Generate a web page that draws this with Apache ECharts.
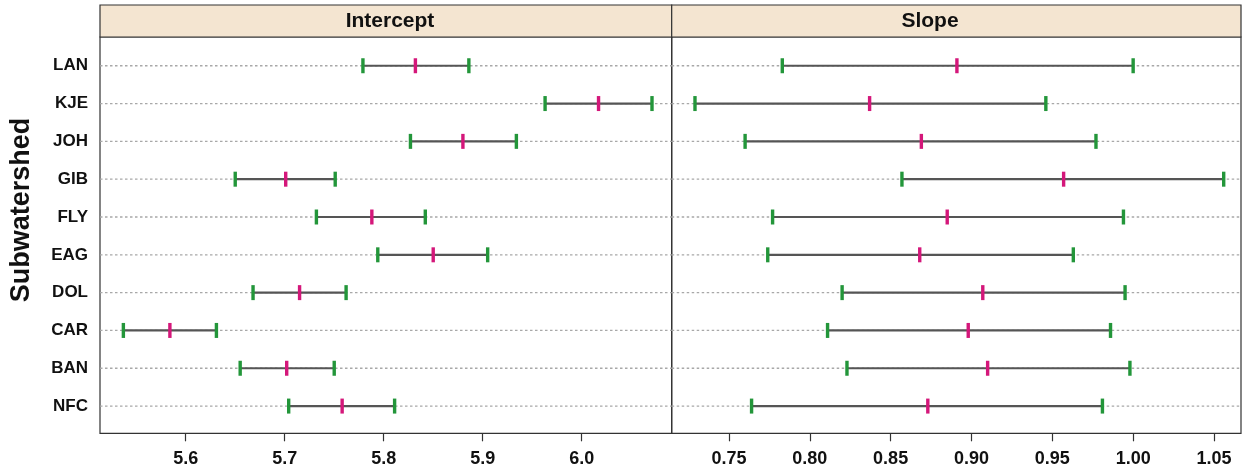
<!DOCTYPE html>
<html>
<head>
<meta charset="utf-8">
<script src="https://cdn.jsdelivr.net/npm/echarts@6/dist/echarts.min.js"></script>
<style>html,body{margin:0;padding:0;background:#fff;}#chart{width:1247px;height:469px;}</style>
</head>
<body>
<div id="chart"></div>
<script>
var categories = ['LAN', 'KJE', 'JOH', 'GIB', 'FLY', 'EAG', 'DOL', 'CAR', 'BAN', 'NFC'];
var interceptLow  = [5.779, 5.963, 5.827, 5.650, 5.732, 5.794, 5.668, 5.537, 5.655, 5.704];
var interceptMid  = [5.832, 6.017, 5.880, 5.701, 5.788, 5.850, 5.715, 5.584, 5.702, 5.758];
var interceptHigh = [5.886, 6.071, 5.934, 5.751, 5.842, 5.905, 5.762, 5.631, 5.750, 5.811];
var slopeLow  = [0.783, 0.729, 0.760, 0.857, 0.777, 0.774, 0.820, 0.811, 0.823, 0.764];
var slopeMid  = [0.891, 0.837, 0.869, 0.957, 0.885, 0.868, 0.907, 0.898, 0.910, 0.873];
var slopeHigh = [1.000, 0.946, 0.977, 1.056, 0.994, 0.963, 0.995, 0.986, 0.998, 0.981];
var interceptTicks = [5.6, 5.7, 5.8, 5.9, 6.0];
var slopeTicks = [0.75, 0.80, 0.85, 0.90, 0.95, 1.00, 1.05];
var panelTitles = ['Intercept', 'Slope'];
var yTitle = 'Subwatershed';

var FONT = '"Liberation Sans", Arial, Helvetica, sans-serif';
var GREEN = '#23963a';
var PINK = '#d4177a';

function rows(lo, mid, hi) {
  return lo.map(function (v, i) { return [v, mid[i], hi[i], i + 1]; });
}

function renderItem(params, api) {
  var row = api.value(3);
  var pL = api.coord([api.value(0), row]);
  var pM = api.coord([api.value(1), row]);
  var pH = api.coord([api.value(2), row]);
  var cs = params.coordSys;
  var y = pL[1];
  function tick(p, c) {
    return { type: 'rect', shape: { x: p[0] - 1.7, y: y - 7.5, width: 3.4, height: 15 }, style: { fill: c } };
  }
  return {
    type: 'group',
    children: [
      { type: 'line', shape: { x1: cs.x, y1: y, x2: cs.x + cs.width, y2: y },
        style: { stroke: '#a8a8a8', lineWidth: 1.3, lineDash: [2.5, 2.5] } },
      { type: 'line', shape: { x1: pL[0], y1: y, x2: pH[0], y2: y },
        style: { stroke: '#555', lineWidth: 2.2 } },
      tick(pL, GREEN), tick(pM, PINK), tick(pH, GREEN)
    ]
  };
}

function xAxisCfg(gi, min, max, ticks, dec) {
  return {
    type: 'value', gridIndex: gi, min: min, max: max,
    axisLine: { show: false },
    splitLine: { show: false },
    axisTick: { show: true, length: 8, customValues: ticks, lineStyle: { color: '#333', width: 1.2 } },
    axisLabel: { customValues: ticks, margin: 17, fontFamily: FONT, fontWeight: 'bold', fontSize: 18, color: '#111',
      formatter: function (v) { return Number(v).toFixed(dec); } }
  };
}

function yAxisCfg(gi, showLabels) {
  return {
    type: 'value', gridIndex: gi, min: 0.24, max: 10.72, inverse: true,
    axisLine: { show: false }, axisTick: { show: false }, splitLine: { show: false },
    axisLabel: {
      show: showLabels, customValues: [1, 2, 3, 4, 5, 6, 7, 8, 9, 10], margin: 12,
      fontFamily: FONT, fontWeight: 'bold', fontSize: 17, color: '#111',
      formatter: function (v) { return categories[Math.round(v) - 1] || ''; }
    }
  };
}

var chart = echarts.init(document.getElementById('chart'), null, { renderer: 'canvas' });
chart.setOption({
  animation: false,
  backgroundColor: '#ffffff',
  grid: [
    { left: 100, top: 37, width: 571.7, height: 396.3, show: true, borderColor: '#333', borderWidth: 1.2, backgroundColor: 'transparent' },
    { left: 671.7, top: 37, width: 569.3, height: 396.3, show: true, borderColor: '#333', borderWidth: 1.2, backgroundColor: 'transparent' }
  ],
  xAxis: [
    xAxisCfg(0, 5.5134, 6.0909, interceptTicks, 1),
    xAxisCfg(1, 0.7146, 1.0667, slopeTicks, 2)
  ],
  yAxis: [yAxisCfg(0, true), yAxisCfg(1, false)],
  series: [
    { type: 'custom', xAxisIndex: 0, yAxisIndex: 0, renderItem: renderItem,
      encode: { x: [0, 1, 2], y: 3 }, data: rows(interceptLow, interceptMid, interceptHigh), silent: true },
    { type: 'custom', xAxisIndex: 1, yAxisIndex: 1, renderItem: renderItem,
      encode: { x: [0, 1, 2], y: 3 }, data: rows(slopeLow, slopeMid, slopeHigh), silent: true }
  ],
  graphic: [
    { type: 'rect', shape: { x: 100, y: 5, width: 571.7, height: 32 }, style: { fill: '#f4e5d1', stroke: '#333', lineWidth: 1.2 } },
    { type: 'rect', shape: { x: 671.7, y: 5, width: 569.3, height: 32 }, style: { fill: '#f4e5d1', stroke: '#333', lineWidth: 1.2 } },
    { type: 'text', x: 390, y: 21, style: { text: panelTitles[0], align: 'center', verticalAlign: 'middle', font: 'bold 21px ' + FONT, fill: '#111' } },
    { type: 'text', x: 930, y: 21, style: { text: panelTitles[1], align: 'center', verticalAlign: 'middle', font: 'bold 21px ' + FONT, fill: '#111' } },
    { type: 'text', x: 22, y: 210, rotation: Math.PI / 2, style: { text: yTitle, align: 'center', verticalAlign: 'middle', font: 'bold 27px ' + FONT, fill: '#111' } }
  ]
});
</script>
</body>
</html>
